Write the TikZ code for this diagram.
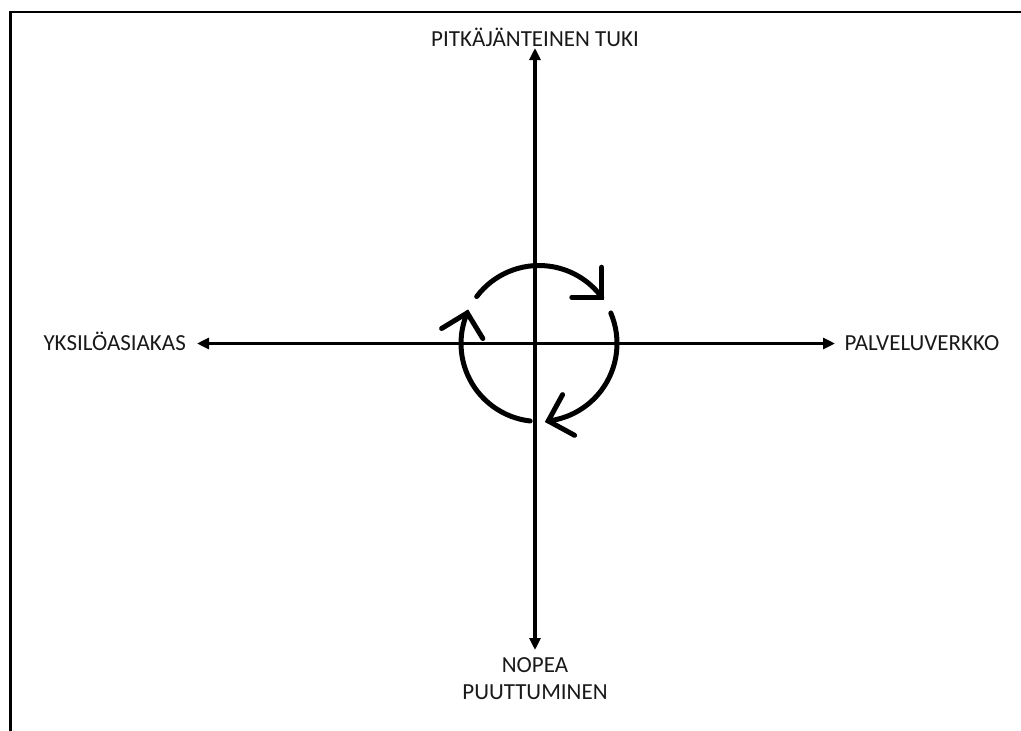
\documentclass[tikz,border=0pt]{standalone}
\usepackage{fontspec}
\setmainfont{Carlito}
\usetikzlibrary{arrows.meta}
\begin{document}
\begin{tikzpicture}[x=1pt,y=-1pt,
  axis/.style={line width=3.2pt,-{Triangle[length=12pt,width=11pt]}},
  lbl/.style={inner sep=0pt,font=\fontsize{23}{26.5}\selectfont,text=black!90,align=center},
  cyc/.style={line width=5pt,line cap=round,line join=miter},
  frame/.style={line width=2.5pt}]
\useasboundingbox (0,0) rectangle (1021,731);
% frame (partial)
\draw[frame] (10.7,731) -- (10.7,12.2) -- (1021,12.2);
% axis end points
\coordinate (o) at (535,343.5);
\coordinate (n) at (535,48);
\coordinate (s) at (535,650);
\coordinate (w) at (197,343.5);
\coordinate (e) at (835,343.5);
\draw[axis] (o) -- (n);
\draw[axis] (o) -- (s);
\draw[axis] (o) -- (w);
\draw[axis] (o) -- (e);
% labels
\node[lbl,anchor=base] (top) at (535,46) {PITKÄJÄNTEINEN TUKI};
\node[lbl,anchor=base] (bot) at (535,699) {NOPEA\\PUUTTUMINEN};
\node[lbl,anchor=base east] (left) at (186,350.5) {YKSILÖASIAKAS};
\node[lbl,anchor=base west] (right) at (844.5,350.5) {PALVELUVERKKO};
% cycle arrows
\coordinate (c) at (539,343.5);
\draw[cyc] (c) ++(-143:78) arc[start angle=-143,end angle=-36.4,radius=78] coordinate (t1);
\draw[cyc] (c) ++(-23:78) arc[start angle=-23,end angle=83.2,radius=78] coordinate (t2);
\draw[cyc] (c) ++(96.5:78) arc[start angle=96.5,end angle=203.1,radius=78] coordinate (t3);
\draw[cyc] (t1) ++(-90:30) -- (t1) -- ++(180:30);
\draw[cyc] (t2) ++(-61.4:30) -- (t2) -- ++(28.6:30);
\draw[cyc] (t3) ++(58.7:30) -- (t3) -- ++(148.7:30);
\end{tikzpicture}
\end{document}
